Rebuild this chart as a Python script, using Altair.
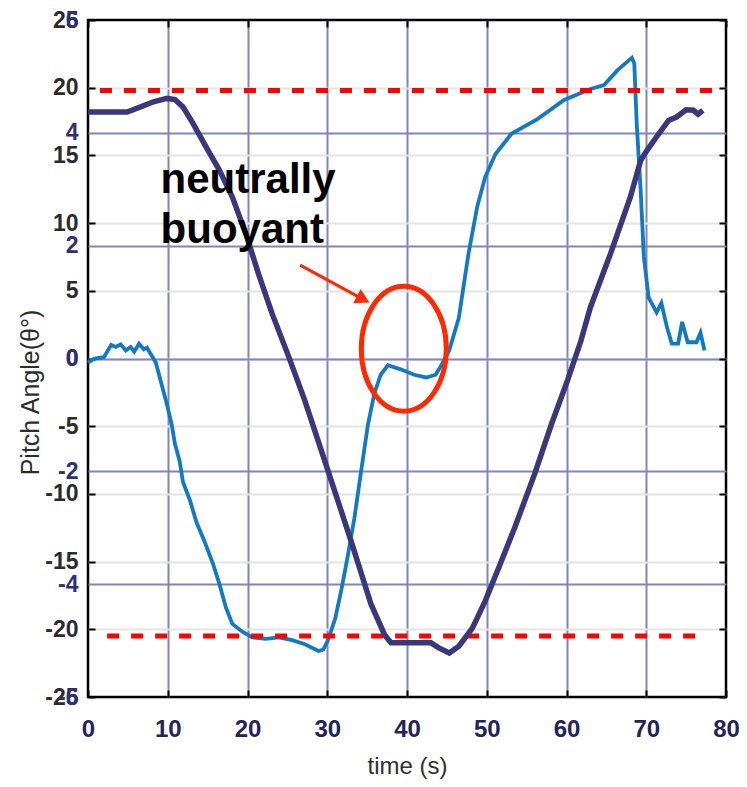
import altair as alt
import pandas as pd

# ---- data ----
pitch_t = [0, 0.8, 2.0, 2.5, 2.9, 3.5, 4.1, 4.75, 5.35, 5.8, 6.4, 7.0, 7.4, 7.9, 8.5, 9.0,
           9.9, 10.5, 10.9, 11.5, 11.9, 12.8, 13.6, 14.6, 15.7, 16.5, 17.3, 18.1, 19.4, 20.6,
           22.3, 23.9, 25.6, 27.2, 28.9, 29.5, 30.1, 31.0, 31.8, 32.6, 33.4, 34.3, 35.1, 35.9,
           36.7, 37.6, 39.2, 40.9, 42.4, 43.6, 44.4, 45.3, 46.5, 47.7, 48.8, 49.8, 51.1, 53.1,
           56.4, 59.7, 63.0, 64.7, 66.4, 68.2, 68.5, 68.8, 69.3, 69.7, 70.3, 71.3, 71.9, 72.6,
           73.2, 74.0, 74.5, 75.2, 76.3, 76.8, 77.3]
pitch_deg = [-0.3, 0.0, 0.1, 0.6, 1.0, 0.85, 1.04, 0.6, 0.85, 0.5, 1.09, 0.68, 0.8, 0.3, -0.3, -1.4,
             -3.4, -4.9, -6.3, -7.6, -9.1, -10.5, -12.1, -13.5, -15.2, -16.7, -18.4, -19.6, -20.2, -20.6,
             -20.7, -20.6, -20.8, -21.1, -21.6, -21.5, -20.8, -19.2, -17.0, -14.5, -11.8, -8.1, -4.9, -2.6,
             -1.2, -0.5, -0.8, -1.2, -1.4, -1.2, -0.4, 0.6, 3.0, 7.7, 11.2, 13.4, 15.1, 16.6,
             17.7, 19.1, 19.9, 20.2, 21.3, 22.2, 21.8, 17.4, 12.4, 7.5, 4.5, 3.4, 4.1, 2.3,
             1.1, 1.1, 2.7, 1.2, 1.2, 1.9, 0.6]

second_t = [0, 4.9, 6.6, 8.2, 9.9, 10.9, 11.9, 13.2, 14.8, 16.5, 18.1, 19.8, 21.4, 23.1, 25.2,
            27.2, 30.1, 33.0, 35.5, 37.2, 38.0, 43.0, 44.0, 45.3, 46.5, 48.2, 49.8, 51.5, 53.5,
            56.0, 58.1, 60.1, 61.8, 63.0, 65.5, 68.0, 69.3, 70.1, 71.3, 72.8, 73.8, 75.0, 75.9,
            76.5, 77.1]
second_val = [4.37, 4.37, 4.46, 4.55, 4.61, 4.59, 4.46, 4.16, 3.75, 3.33, 2.86, 2.21, 1.49, 0.79, 0.02,
              -0.75, -1.99, -3.24, -4.36, -4.90, -5.04, -5.04, -5.13, -5.22, -5.10, -4.78, -4.30, -3.71, -3.00,
              -2.05, -1.17, -0.40, 0.31, 0.91, 1.85, 2.86, 3.51, 3.69, 3.93, 4.22, 4.28, 4.41, 4.40,
              4.33, 4.40]

limit_val = [19.8, -20.5]
limit_start = [1.5, 2.4]
limit_end = [78.3, 77.5]

x_ticks = [0, 10, 20, 30, 40, 50, 60, 70, 80]
pitch_ticks = [-25, -20, -15, -10, -5, 0, 5, 10, 15, 20, 25]
second_ticks = [-6, -4, -2, 0, 2, 4, 6]

note_text = ["neutrally", "buoyant"]
note_pos = [9.1, 12.2]
arrow_from = [26.6, 6.9]
arrow_to = [34.5, 4.37]
ellipse_center = [39.6, 0.72]

# ---- tables ----
pitch_df = pd.DataFrame({"t": pitch_t, "v": pitch_deg})
second_df = pd.DataFrame({"t": second_t, "v": second_val})
limit_df = pd.DataFrame({"v": limit_val, "t0": limit_start, "t1": limit_end})
note_df = pd.DataFrame({"t": [note_pos[0]], "v": [note_pos[1]], "txt": [note_text]})
arrow_df = pd.DataFrame({"t": [arrow_from[0]], "v": [arrow_from[1]],
                         "t2": [arrow_to[0]], "v2": [arrow_to[1]]})
head_df = pd.DataFrame({"t": [arrow_to[0]], "v": [arrow_to[1]]})
ell_df = pd.DataFrame({"t": [ellipse_center[0]], "v": [ellipse_center[1]]})

LBL = "Liberation Sans, Arial"
PURPLE = "#8484bc"

xscale = alt.Scale(domain=[0, 80], nice=False, zero=False)
pscale = alt.Scale(domain=[-25, 25], nice=False, zero=False)
sscale = alt.Scale(domain=[-6, 6], nice=False, zero=False)

x_axis = alt.Axis(
    values=x_ticks, grid=True, ticks=False, domain=False,
    gridColor={"condition": {"test": "datum.value == 0 || datum.value == 80", "value": "transparent"},
               "value": PURPLE},
    gridWidth=2, labelFont=LBL, labelFontSize=24, labelFontWeight="bold",
    labelColor="#23235c", labelPadding=20, labelFlush=False, labelOverlap=False,
    labelExpr="toString(datum.value)",
    title="time (s)", titleFont="Liberation Sans", titleFontSize=24, titleFontWeight="normal",
    titleColor="#303030", titleY=76, titleBaseline="alphabetic",
)

p_axis = alt.Axis(
    values=pitch_ticks, orient="left", grid=True, ticks=False, domain=False,
    gridColor={"condition": {"test": "abs(datum.value) >= 25", "value": "transparent"},
               "value": "#e4e4e4"},
    gridWidth=2, labelFont=LBL, labelFontSize=23, labelFontWeight="bold",
    labelColor="#2b2b2b", labelPadding=10, labelFlush=False, labelOverlap=False,
    labelExpr="toString(datum.value)",
    title="Pitch Angle(θ°)", titleFont="Liberation Sans", titleFontSize=25,
    titleFontWeight="normal", titleColor="#2d2d2d", titleX=-58, titleY=372,
    titleAlign="center", titleBaseline="middle", titleAngle=270,
)

s_axis = alt.Axis(
    values=second_ticks, orient="left", grid=True, ticks=False, domain=False,
    gridColor={"condition": {"test": "abs(datum.value) >= 6", "value": "transparent"},
               "value": PURPLE},
    gridWidth=2, labelFont=LBL, labelFontSize=23, labelFontWeight="bold",
    labelColor="#2e2e7a", labelPadding=10, labelFlush=False, labelOverlap=False,
    labelExpr="toString(datum.value)",
    title=None,
)

def tick_axis(orient, values):
    return alt.Axis(values=values, orient=orient, offset=-7, tickSize=7, tickColor="black",
                    tickWidth=2, labels=False, domain=False, grid=False, title=None)

pitch_line = alt.Chart(pitch_df).mark_line(color="#1479c0", strokeWidth=3.8).encode(
    x=alt.X("t:Q", scale=xscale, axis=x_axis),
    y=alt.Y("v:Q", scale=pscale, axis=p_axis))

limits = alt.Chart(limit_df).mark_rule(color="#ff0000", strokeWidth=5, strokeDash=[12, 12]).encode(
    x=alt.X("t0:Q", scale=xscale, axis=tick_axis("top", x_ticks)), x2="t1:Q",
    y=alt.Y("v:Q", scale=pscale, axis=tick_axis("left", pitch_ticks)))

second_line = alt.Chart(second_df).mark_line(color="#3a3878", strokeWidth=5.5).encode(
    x=alt.X("t:Q", scale=xscale, axis=tick_axis("bottom", x_ticks)),
    y=alt.Y("v:Q", scale=sscale, axis=s_axis))

XN = alt.X("t:Q", scale=xscale, axis=None)
YR = alt.Y("v:Q", scale=pscale, axis=tick_axis("right", pitch_ticks))

ellipse = alt.Chart(ell_df).mark_point(
    shape="M -0.68 0 A 0.68 1 0 1 0 0.68 0 A 0.68 1 0 1 0 -0.68 0 Z",
    size=15625, filled=False, color="#ff2a00", strokeWidth=5, opacity=1,
).encode(x=XN, y=YR)

arrow = alt.Chart(arrow_df).mark_rule(color="#ff2a00", strokeWidth=3).encode(
    x=XN, x2="t2:Q", y=YR, y2="v2:Q")

head = alt.Chart(head_df).mark_point(
    shape="triangle-right", filled=True, size=260, color="#ff2a00", angle=28, opacity=1,
).encode(x=XN, y=YR)

note = alt.Chart(note_df).mark_text(
    align="left", baseline="alphabetic", font="Liberation Sans", fontSize=42,
    fontWeight="bold", lineHeight=50, color="black",
).encode(x=XN, y=YR, text="txt")

top = alt.layer(ellipse, arrow, head, note)

chart = alt.layer(pitch_line, limits, second_line, top).resolve_scale(
    y="independent").resolve_axis(x="independent", y="independent").properties(
    width=638, height=677,
    background="white",
    autosize=alt.AutoSizeParams(type="none"),
    padding={"left": 80, "top": 12, "right": 13, "bottom": 88},
).configure_view(stroke="black", strokeWidth=2.5)

chart.save("out.html", embed_options={"renderer": "svg", "actions": False})
